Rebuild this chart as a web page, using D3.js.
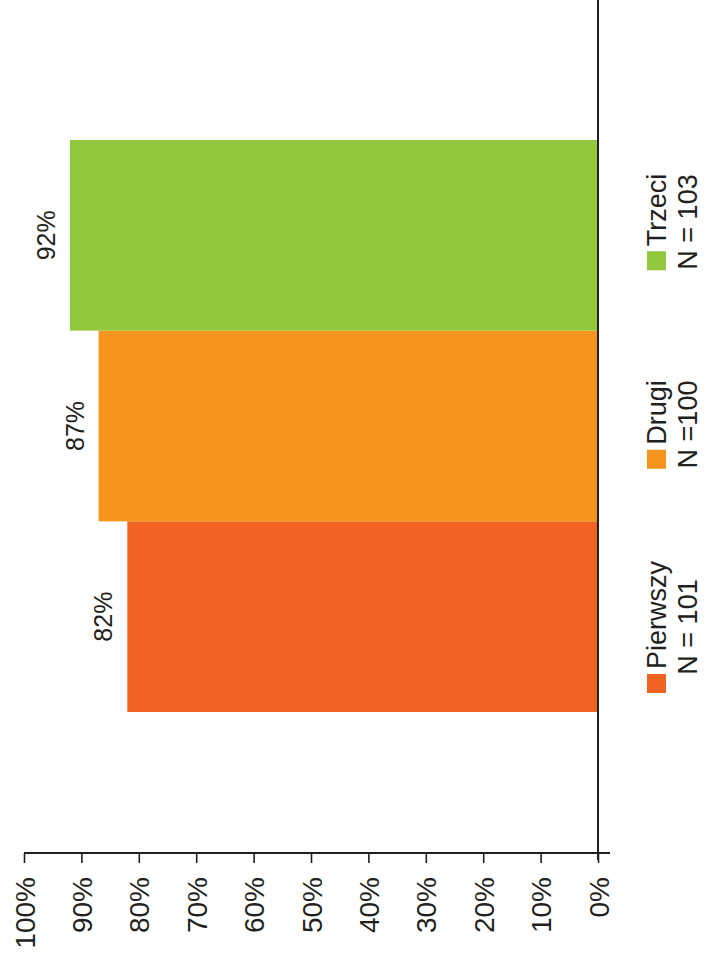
<!DOCTYPE html>
<html>
<head>
<meta charset="utf-8">
<script src="https://cdn.jsdelivr.net/npm/d3@7/dist/d3.min.js"></script>
<style>
  body { margin: 0; background: #fff; }
  text { font-family: "Liberation Sans", Arial, sans-serif; fill: #231f20; }
</style>
</head>
<body>
<div id="chart"></div>
<script>
// data
const categories = ["Pierwszy", "Drugi", "Trzeci"];
const sampleSizes = ["N = 101", "N =100", "N = 103"];
const values = [0.82, 0.87, 0.92];
const colors = ["#f16322", "#f7941e", "#93c83e"];
const tickValues = [0, 0.1, 0.2, 0.3, 0.4, 0.5, 0.6, 0.7, 0.8, 0.9, 1];

const width = 704;
const height = 957;
const ink = "#231f20";

let svg = d3.select("#chart").append("svg")
  .attr("width", width)
  .attr("height", height);

// the chart is drawn turned on its side: values run right-to-left
let x = d3.scaleLinear().domain([0, 1]).range([598, 24]);
let y = d3.scaleBand().domain(categories).range([712, 140]).padding(0);
let axisY = 853;

// bars
svg.selectAll("rect.bar")
  .data(categories)
  .enter()
  .append("rect")
  .attr("class", "bar")
  .attr("x", function(d, i){ return x(values[i]); })
  .attr("y", function(d){ return y(d); })
  .attr("width", function(d, i){ return x(0) - x(values[i]); })
  .attr("height", y.bandwidth())
  .style("fill", function(d, i){ return colors[i]; });

// value labels
svg.selectAll("text.value")
  .data(categories)
  .enter()
  .append("text")
  .attr("class", "value")
  .attr("transform", function(d, i){
    return `translate(${x(values[i]) - 15},${y(d) + y.bandwidth() / 2}) rotate(-90)`;
  })
  .attr("text-anchor", "middle")
  .style("font-size", "25px")
  .text(function(d, i){ return d3.format(".0%")(values[i]); });

// value axis (bottom)
let axis = svg.append("g")
  .attr("transform", `translate(0,${axisY})`)
  .call(d3.axisBottom(x).tickValues(tickValues).tickFormat(d3.format(".0%")).tickSize(10).tickSizeOuter(0));

axis.select(".domain").remove();
axis.selectAll(".tick line").attr("stroke", ink).attr("stroke-width", 1.6);
axis.selectAll(".tick text")
  .attr("transform", "rotate(-90)")
  .attr("text-anchor", "end")
  .attr("x", -24)
  .attr("y", 0)
  .attr("dy", "0.36em")
  .style("font-size", "28px")
  .style("font-family", "Liberation Sans, Arial, sans-serif")
  .attr("fill", ink);

axis.append("line")
  .attr("x1", x(1))
  .attr("x2", x(0) + 12)
  .attr("y1", 0)
  .attr("y2", 0)
  .attr("stroke", ink)
  .attr("stroke-width", 2);

// category axis line
svg.append("line")
  .attr("x1", x(0))
  .attr("x2", x(0))
  .attr("y1", 0)
  .attr("y2", axisY + 7)
  .attr("stroke", ink)
  .attr("stroke-width", 2);

// legend, also turned on its side
let legendY = d3.scalePoint().domain(categories).range([627, 222]);

categories.map(function(d, i){
  let g = svg.append("g")
    .attr("transform", `translate(666,${legendY(d)}) rotate(-90)`);
  let label = g.append("text")
    .style("font-size", "27px")
    .text(d);
  let w = 19 + 5 + label.node().getComputedTextLength();
  label.attr("x", -w / 2 + 24);
  g.append("rect")
    .attr("x", -w / 2)
    .attr("y", -19)
    .attr("width", 19)
    .attr("height", 19)
    .style("fill", colors[i]);
  g.append("text")
    .attr("x", 0)
    .attr("y", 31)
    .attr("text-anchor", "middle")
    .style("font-size", "27px")
    .text(sampleSizes[i]);
});
</script>
</body>
</html>
